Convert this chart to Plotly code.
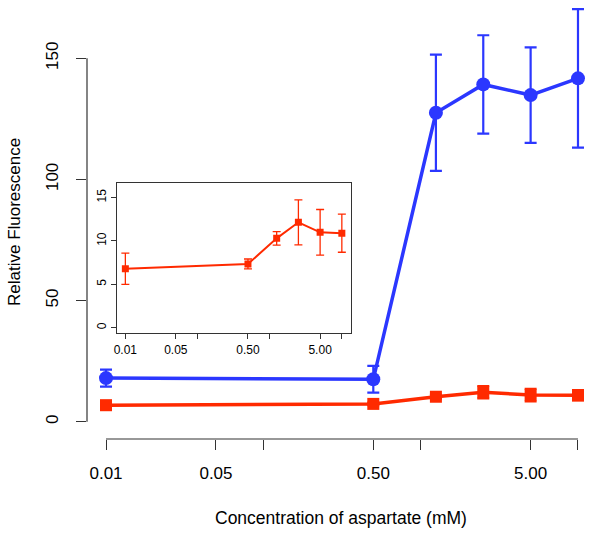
import plotly.graph_objects as go

# ---- data ----
conc = [0.01, 0.5, 1.25, 2.5, 5, 10]
blue_mean = [18.0, 17.5, 127.5, 139.2, 134.8, 141.7]
blue_err = [3.5, 5.5, 24.0, 20.3, 19.7, 28.6]
red_mean = [6.8, 7.35, 10.3, 12.15, 11.0, 10.9]
red_err = [1.8, 0.57, 0.78, 2.6, 2.63, 2.2]
x_tickvals = [0.01, 0.05, 0.1, 0.5, 1, 5, 10]
x_ticktext = ["0.01", "0.05", "", "0.50", "", "5.00", ""]
y_tickvals = [0, 50, 100, 150]
inset_y_tickvals = [0, 5, 10, 15]

BLUE = "#2b37ff"
RED = "#ff2a00"
AX = "#333333"
FONT = "Liberation Sans, Arial, Helvetica, sans-serif"

W, H = 600, 537
ML, MR, MT, MB = 87, 3, 0, 98
PW = W - ML - MR
PH = H - MT - MB

def px(xpix):
    return (xpix - ML) / PW

def py(ypix):
    return (H - MB - ypix) / PH

fig = go.Figure()

fig.add_trace(go.Scatter(
    x=conc, y=blue_mean, mode="lines+markers",
    line=dict(color=BLUE, width=3.5),
    marker=dict(symbol="circle", size=14, color=BLUE),
    error_y=dict(type="data", array=blue_err, visible=True, color=BLUE, thickness=2.2, width=6),
    xaxis="x", yaxis="y", showlegend=False, cliponaxis=False))

fig.add_trace(go.Scatter(
    x=conc, y=red_mean, mode="lines+markers",
    line=dict(color=RED, width=3.5),
    marker=dict(symbol="square", size=12, color=RED),
    error_y=dict(type="data", array=red_err, visible=True, color=RED, thickness=2, width=6),
    xaxis="x", yaxis="y", showlegend=False, cliponaxis=False))

fig.add_trace(go.Scatter(
    x=conc, y=red_mean, mode="lines+markers",
    line=dict(color=RED, width=2),
    marker=dict(symbol="square", size=7, color=RED),
    error_y=dict(type="data", array=red_err, visible=True, color=RED, thickness=1.3, width=4),
    xaxis="x2", yaxis="y2", showlegend=False))

fig.update_layout(
    width=W, height=H,
    margin=dict(l=ML, r=MR, t=MT, b=MB, pad=0, autoexpand=False),
    paper_bgcolor="white", plot_bgcolor="rgba(0,0,0,0)",
    font=dict(family=FONT, size=17, color="black"),
    xaxis=dict(type="log", range=[-2.1208, 1.1208], domain=[0, 1],
               tickvals=x_tickvals, ticktext=x_ticktext,
               ticks="outside", ticklen=10, tickwidth=1.2, tickcolor=AX,
               showline=False, showgrid=False, zeroline=False, automargin=False,
               ticklabelstandoff=9,
               tickfont=dict(size=17), anchor="y"),
    yaxis=dict(range=[-7.14, 174.04], domain=[0, 1],
               tickvals=y_tickvals, tickangle=-90,
               ticks="outside", ticklen=10, tickwidth=1.2, tickcolor=AX,
               showline=False, showgrid=False, zeroline=False, automargin=False,
               ticklabelstandoff=11,
               tickfont=dict(size=17), anchor="x"),
    xaxis2=dict(type="log", range=[-2.12, 1.12], domain=[px(116.7), px(350.5)],
                tickvals=x_tickvals, ticktext=x_ticktext,
                ticks="outside", ticklen=5, tickwidth=1, tickcolor=AX,
                showline=True, mirror=True, linecolor=AX, linewidth=1.2,
                showgrid=False, zeroline=False, automargin=False,
                tickfont=dict(size=12), anchor="y2"),
    yaxis2=dict(range=[-0.64, 16.64], domain=[py(333.2), py(183.4)],
                tickvals=inset_y_tickvals, tickangle=-90,
                ticks="outside", ticklen=5, tickwidth=1, tickcolor=AX,
                showline=True, mirror=True, linecolor=AX, linewidth=1.2,
                showgrid=False, zeroline=False, automargin=False,
                tickfont=dict(size=12), anchor="x2"),
)

# R-style axis lines spanning only the tick range
fig.add_shape(type="line", xref="x", yref="paper", x0=0.01, x1=10, y0=0, y1=0,
              line=dict(color=AX, width=1.2))
fig.add_shape(type="line", xref="paper", yref="y", x0=0, x1=0, y0=0, y1=150,
              line=dict(color=AX, width=1.2))

fig.add_annotation(text="Relative Fluorescence", xref="paper", yref="paper",
                   x=px(15), y=py(222), textangle=-90, showarrow=False,
                   xanchor="center", yanchor="middle", font=dict(size=17))
fig.add_annotation(text="Concentration of aspartate (mM)", xref="paper", yref="paper",
                   x=px(341), y=py(518), showarrow=False,
                   xanchor="center", yanchor="middle", font=dict(size=17.5))

fig.write_html("out.html", config={"displayModeBar": False},
               post_script="document.body.style.margin='0';document.body.style.padding='0';")
